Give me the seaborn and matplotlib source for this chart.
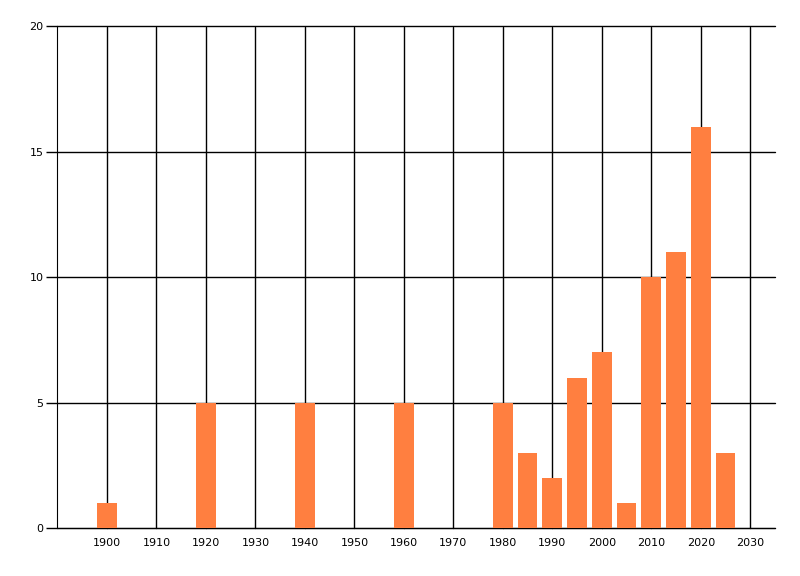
import numpy as np
import pandas as pd
import seaborn as sns
import matplotlib
matplotlib.use("Agg")
from matplotlib import pyplot as plt

years = [1900, 1920, 1940, 1960, 1980, 1985, 1990, 1995, 2000, 2005, 2010, 2015, 2020, 2025]
counts = [1, 5, 5, 5, 5, 3, 2, 6, 7, 1, 10, 11, 16, 3]
x_ticks = list(range(1900, 2031, 10))
y_ticks = [0, 5, 10, 15, 20]

df = pd.DataFrame({"year": years, "count": counts})

sns.set_style("white", {"xtick.bottom": True, "ytick.left": True,
                        "text.color": "black", "xtick.color": "black",
                        "ytick.color": "black"})
plt.rcParams["font.family"] = ["DejaVu Sans"]

fig = plt.figure(figsize=(8, 5.76), dpi=100)
ax = fig.add_axes([57.5 / 800, 1 - 528 / 576, (775 - 57.5) / 800, (528 - 26.5) / 576])

sns.barplot(data=df, x="year", y="count", native_scale=True, width=0.8,
            color="#ff7f40", saturation=1, ax=ax, zorder=3)

ax.set_xlim(1890, 2035)
ax.set_ylim(0, 20)
ax.set_xticks(x_ticks)
ax.set_yticks(y_ticks)
ax.set_xticklabels([str(t) for t in x_ticks], fontsize=8)
ax.set_yticklabels([str(t) for t in y_ticks], fontsize=8)
ax.grid(True, color="black", linewidth=1)
ax.set_axisbelow(True)
for gl in ax.get_xgridlines() + ax.get_ygridlines():
    gl.set_clip_on(False)
for b in ax.patches:
    b.set_edgecolor("none")
ax.set_xlabel("")
ax.set_ylabel("")
sns.despine(ax=ax)
ax.spines["left"].set_color("black")
ax.spines["bottom"].set_color("black")
ax.tick_params(axis="y", length=8, width=1, color="black", labelcolor="black", pad=2)
ax.tick_params(axis="x", length=0, labelcolor="black", pad=7)

fig.savefig("out.png", dpi=100)
